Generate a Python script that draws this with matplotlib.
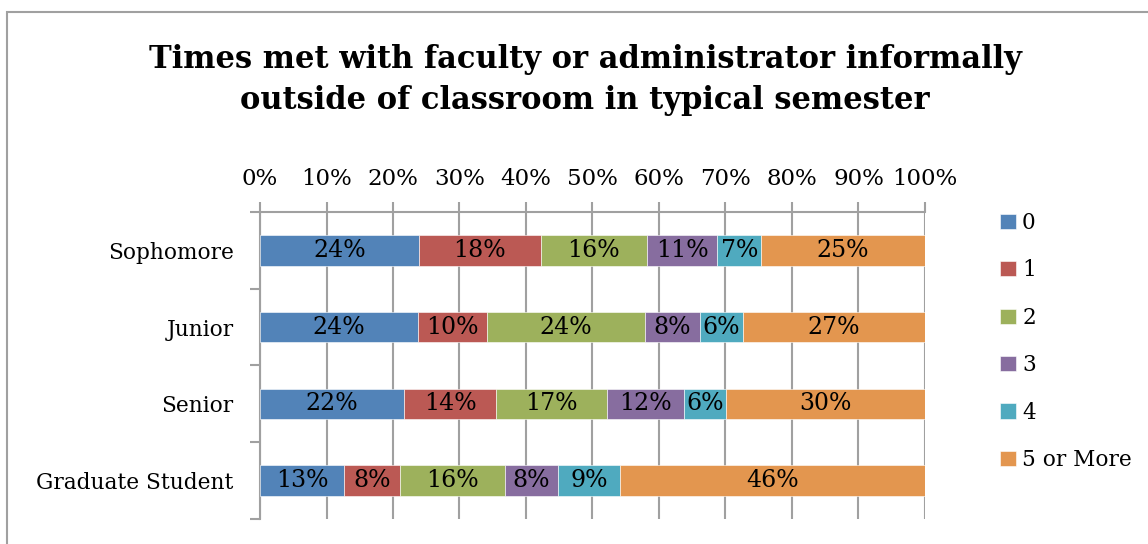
import matplotlib.pyplot as plt
from matplotlib.patches import Rectangle

categories = ["Sophomore", "Junior", "Senior", "Graduate Student"]
series_names = ["0", "1", "2", "3", "4", "5 or More"]

# percent of each class year, one list per answer
s0 = [23.9, 23.8, 21.7, 12.6]
s1 = [18.3, 10.3, 13.8, 8.4]
s2 = [16.0, 23.8, 16.7, 15.8]
s3 = [10.6, 8.3, 11.5, 8.0]
s4 = [6.6, 6.4, 6.4, 9.4]
s5 = [24.6, 27.4, 29.9, 45.8]
series = [s0, s1, s2, s3, s4, s5]

x_ticks = [0, 10, 20, 30, 40, 50, 60, 70, 80, 90, 100]

colors = ["#5283b8", "#bb5954", "#9db15c", "#876d9f", "#4faabf", "#e3964f"]
grid_gray = "#a0a0a0"
font = "DejaVu Serif"

fig = plt.figure(figsize=(11.48, 5.44), dpi=100)
ax = fig.add_axes([0.2265, 0.046, 0.5792, 0.5643])

ypos = list(range(len(categories)))
left = [0.0] * len(categories)
for name, vals, c in zip(series_names, series, colors):
    bars = ax.barh(ypos, vals, left=left, height=0.4, color=c,
                   edgecolor="white", linewidth=0.4, label=name, zorder=3)
    for b, v, l in zip(bars, vals, left):
        ax.text(l + v / 2, b.get_y() + b.get_height() / 2, f"{round(v)}%",
                ha="center", va="center", fontsize=17, family=font, zorder=4)
    left = [l + v for l, v in zip(left, vals)]

ax.set_xlim(0, 100)
ax.set_ylim(len(categories) - 0.5, -0.5)

ax.xaxis.tick_top()
ax.set_xticks(x_ticks)
ax.set_xticklabels([f"{t}%" for t in x_ticks], family=font, fontsize=16.5)
ax.tick_params(axis="x", direction="out", length=7, width=1.5,
               color=grid_gray, pad=9)
ax.grid(axis="x", color=grid_gray, linewidth=1.5, zorder=0)

ax.set_yticks([i - 0.5 for i in range(len(categories) + 1)])
ax.set_yticklabels([])
ax.tick_params(axis="y", which="major", direction="out", length=7,
               width=1.5, color=grid_gray)
ax.set_yticks(ypos, minor=True)
ax.set_yticklabels(categories, minor=True, family=font, fontsize=15.6)
ax.tick_params(axis="y", which="minor", length=0, pad=19)

for s in ["right", "bottom"]:
    ax.spines[s].set_visible(False)
for s in ["left", "top"]:
    ax.spines[s].set_color(grid_gray)
    ax.spines[s].set_linewidth(1.5)

leg = fig.legend(loc="upper left", bbox_to_anchor=(0.862, 0.63),
                 frameon=False, prop={"family": font, "size": 15.6},
                 handlelength=0.7, handleheight=0.7, handletextpad=0.3,
                 labelspacing=1.17, borderpad=0)

fig.text(0.5096, 0.853, "Times met with faculty or administrator informally\n"
         "outside of classroom in typical semester",
         ha="center", va="center", fontsize=22, fontweight="bold",
         family=font, linespacing=1.45)

fig.patches.append(Rectangle((7 / 1148, -0.2), 1.2, 1.2 - 12 / 544,
                             transform=fig.transFigure, fill=False,
                             edgecolor=grid_gray, linewidth=1.5))

fig.savefig("out.png", dpi=100)
